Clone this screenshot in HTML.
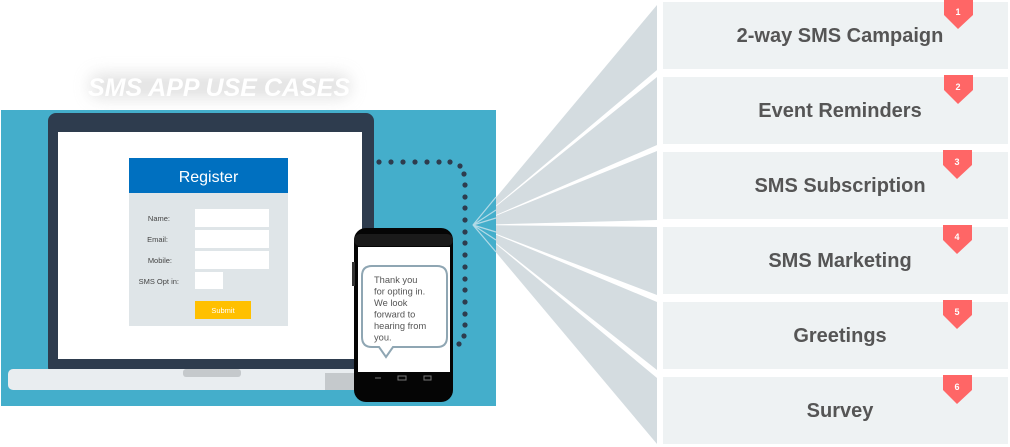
<!DOCTYPE html>
<html><head><meta charset="utf-8"><style>
html,body{margin:0;padding:0;background:#fff;}
body{width:1010px;height:447px;overflow:hidden;position:relative;font-family:"Liberation Sans",sans-serif;}
</style></head><body>
<svg width="1010" height="447" viewBox="0 0 1010 447" xmlns="http://www.w3.org/2000/svg" style="position:absolute;left:0;top:0">
<defs><filter id="glow" x="-20%" y="-80%" width="140%" height="260%"><feGaussianBlur stdDeviation="8"/></filter></defs>
<!-- title glow -->
<rect x="90" y="74" width="260" height="24" rx="10" fill="#cfcfcf" filter="url(#glow)" opacity="0.6"/>
<text x="219" y="96" text-anchor="middle" font-family="Liberation Sans" font-style="italic" font-weight="bold" font-size="25" fill="#fff">SMS APP USE CASES</text>
<!-- wedges (behind panel) -->
<g fill="#d4dce0">
<polygon points="473,225 657,5 657,70"/>
<polygon points="473,225 657,77 657,145"/>
<polygon points="473,225 657,151 657,220"/>
<polygon points="473,225 657,227 657,295"/>
<polygon points="473,225 657,302 657,370"/>
<polygon points="473,225 657,378 657,444"/>
</g>
<!-- blue panel -->
<rect x="1" y="110" width="495" height="296" fill="#44aecb"/>
<g stroke="#cfe6ee" stroke-width="1.2" opacity="0.8">
<line x1="473" y1="225" x2="496" y2="197"/><line x1="473" y1="225" x2="496" y2="210"/><line x1="473" y1="225" x2="496" y2="218"/>
<line x1="473" y1="225" x2="496" y2="232"/><line x1="473" y1="225" x2="496" y2="240"/><line x1="473" y1="225" x2="496" y2="252"/>
</g>
<!-- laptop -->
<rect x="48" y="113" width="326" height="262" rx="8" fill="#2e3c4e"/>
<rect x="58" y="132" width="304" height="227" fill="#fff"/>
<rect x="8" y="369" width="352" height="21" rx="5" fill="#e9edf0"/>
<rect x="325" y="373" width="35" height="17" fill="#c5c9cc"/>
<rect x="183" y="369" width="58" height="8" rx="3" fill="#c5c9cc"/>
<!-- register -->
<rect x="129" y="193" width="159" height="133" fill="#dfe5e8"/>
<rect x="129" y="158" width="159" height="35" fill="#0070c0"/>
<text x="208.5" y="182" text-anchor="middle" font-size="16" fill="#fff">Register</text>
<g font-size="7.5" fill="#444" text-anchor="end">
<text x="170" y="221">Name:</text><text x="168" y="242">Email:</text><text x="172" y="263">Mobile:</text><text x="179" y="284">SMS Opt in:</text></g>
<rect x="195" y="209" width="74" height="18" fill="#fff"/>
<rect x="195" y="230" width="74" height="18" fill="#fff"/>
<rect x="195" y="251" width="74" height="18" fill="#fff"/>
<rect x="195" y="272" width="28" height="17" fill="#fff"/>
<rect x="195" y="301" width="56" height="18" fill="#ffc000"/>
<text x="223" y="313" text-anchor="middle" font-size="7.5" fill="#fff">Submit</text>
<!-- dots -->
<g fill="#2e3c4e">
<circle cx="379" cy="162" r="2.6"/><circle cx="391" cy="162" r="2.6"/><circle cx="403" cy="162" r="2.6"/><circle cx="415" cy="162" r="2.6"/><circle cx="427" cy="162" r="2.6"/><circle cx="439" cy="162" r="2.6"/><circle cx="450" cy="162" r="2.6"/><circle cx="460" cy="166" r="2.6"/>
<circle cx="464" cy="174" r="2.6"/><circle cx="465" cy="185" r="2.6"/><circle cx="465" cy="197" r="2.6"/><circle cx="465" cy="208" r="2.6"/><circle cx="465" cy="220" r="2.6"/><circle cx="465" cy="232" r="2.6"/><circle cx="465" cy="243" r="2.6"/><circle cx="465" cy="255" r="2.6"/><circle cx="465" cy="267" r="2.6"/><circle cx="465" cy="279" r="2.6"/><circle cx="465" cy="290" r="2.6"/><circle cx="465" cy="302" r="2.6"/><circle cx="465" cy="314" r="2.6"/><circle cx="465" cy="325" r="2.6"/><circle cx="464" cy="336" r="2.6"/><circle cx="459" cy="344" r="2.6"/>
</g>
<!-- phone -->
<rect x="354" y="228" width="99" height="174" rx="12" fill="#050505"/>
<rect x="354" y="234" width="99" height="12" fill="#1a1a1a" rx="6"/>
<rect x="358" y="247" width="92" height="125" fill="#fff"/>
<rect x="352" y="262" width="3" height="24" fill="#333"/>
<path d="M372 266 H437 Q447 266 447 276 V337 Q447 347 437 347 H393 L386 357 L379 347 H372 Q362 347 362 337 V276 Q362 266 372 266 Z" fill="#fff" stroke="#8fa6b3" stroke-width="2"/>
<g font-size="9.3" fill="#555"><text x="374" y="283">Thank you</text><text x="374" y="294.5">for opting in.</text><text x="374" y="306">We look</text><text x="374" y="317.5">forward to</text><text x="374" y="329">hearing from</text><text x="374" y="340.5">you.</text></g>
<g stroke="#777" stroke-width="1" fill="none"><path d="M375 378h6"/><rect x="398" y="376" width="8" height="4"/><rect x="424" y="376" width="7" height="4"/></g>
<!-- boxes -->
<g fill="#eef2f3">
<rect x="663" y="2" width="345" height="67"/><rect x="663" y="77" width="345" height="67"/><rect x="663" y="152" width="345" height="67"/><rect x="663" y="227" width="345" height="67"/><rect x="663" y="302" width="345" height="67"/><rect x="663" y="377" width="345" height="67"/>
</g>
<g font-weight="bold" font-size="20" fill="#555" text-anchor="middle">
<text x="840" y="42">2-way SMS Campaign</text><text x="840" y="117">Event Reminders</text><text x="840" y="192">SMS Subscription</text><text x="840" y="267">SMS Marketing</text><text x="840" y="342">Greetings</text><text x="840" y="417">Survey</text>
</g>
<g fill="#ff6666">
<polygon points="944,0 973,0 973,15 958,29 944,15"/>
<polygon points="944,75 973,75 973,90 958,104 944,90"/>
<polygon points="943,150 972,150 972,165 957,179 943,165"/>
<polygon points="943,225 972,225 972,240 957,254 943,240"/>
<polygon points="943,300 972,300 972,315 957,329 943,315"/>
<polygon points="943,375 972,375 972,390 957,404 943,390"/>
</g>
<g font-size="9" font-weight="bold" fill="#fff" text-anchor="middle">
<text x="958" y="15">1</text><text x="958" y="90">2</text><text x="957" y="165">3</text><text x="957" y="240">4</text><text x="957" y="315">5</text><text x="957" y="390">6</text>
</g>
</svg>
</body></html>
